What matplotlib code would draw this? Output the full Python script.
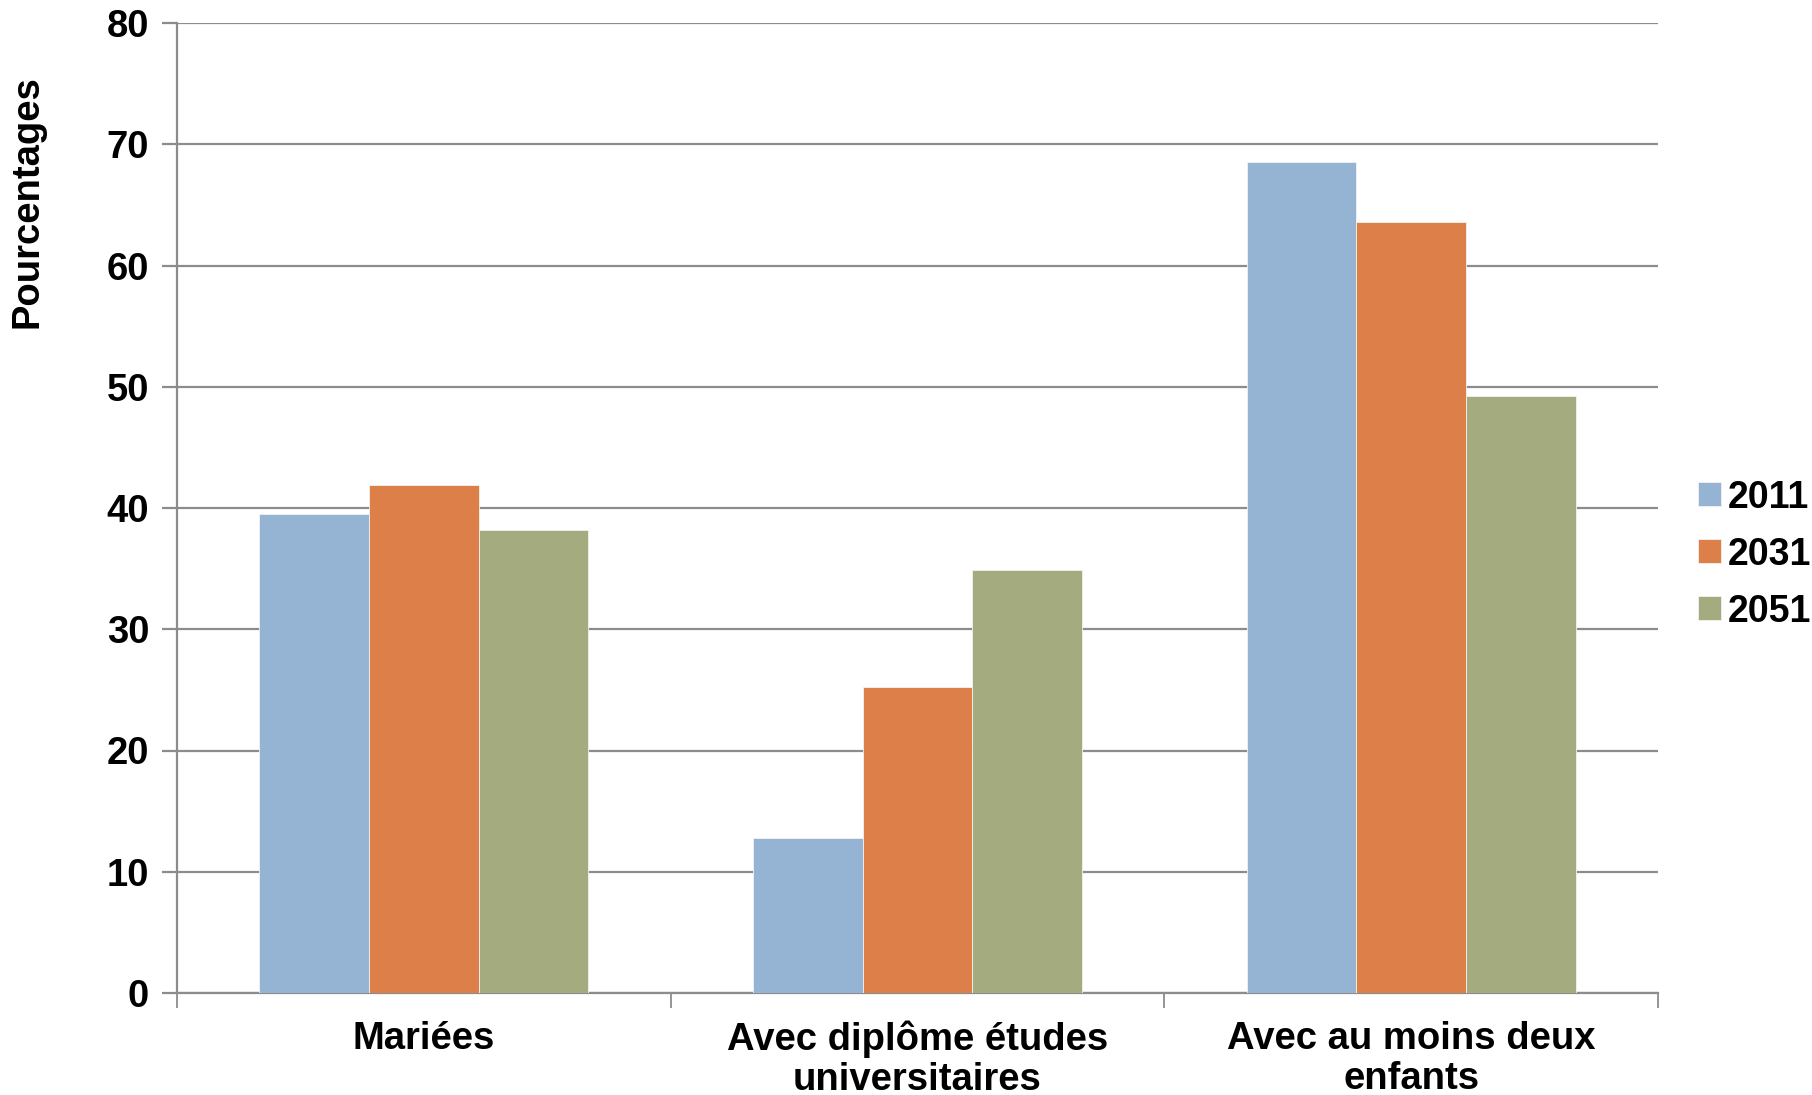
import matplotlib.pyplot as plt
import numpy as np

categories = ["Mariées", "Avec diplôme études\nuniversitaires", "Avec au moins deux\nenfants"]
years = ["2011", "2031", "2051"]
values_2011 = [39.5, 12.8, 68.5]
values_2031 = [41.9, 25.2, 63.6]
values_2051 = [38.2, 34.9, 49.2]
colors = ["#95B4D3", "#DD7F48", "#A4AB7F"]

plt.rcParams['font.family'] = ['Liberation Sans', 'DejaVu Sans']
plt.rcParams['font.weight'] = 'bold'

fig = plt.figure(figsize=(18.12, 10.95), dpi=100)
ax = fig.add_axes([177/1812, 1 - 993/1095, (1658-177)/1812, (993-23)/1095])

x = np.arange(len(categories))
width = 0.222
series = [values_2011, values_2031, values_2051]
for i, (vals, year) in enumerate(zip(series, years)):
    ax.bar(x + (i - 1) * width, vals, width, color=colors[i], label=year,
           edgecolor='#f2f2f2', linewidth=0.6, zorder=3)

ax.set_xlim(-0.5, 2.5)
ax.set_ylim(0, 80)
ax.set_yticks(range(0, 81, 10))
ax.yaxis.grid(True, color='#8c8c8c', linewidth=1.6, zorder=0)
ax.tick_params(axis='y', length=11, width=1.6, color='#8c8c8c', labelsize=27.5, pad=9)

# category boundaries as ticks, labels at centres
ax.set_xticks([-0.5, 0.5, 1.5, 2.5])
ax.set_xticklabels([])
ax.set_xticks(x, minor=True)
ax.set_xticklabels(categories, minor=True, fontsize=27.5, fontweight='bold', linespacing=1.15)
ax.tick_params(axis='x', which='major', length=11, width=1.3, color='#8c8c8c')
ax.tick_params(axis='x', which='minor', length=0, pad=20)

for side in ['top', 'right']:
    ax.spines[side].set_visible(False)
for side in ['left', 'bottom']:
    ax.spines[side].set_color('#8c8c8c')
    ax.spines[side].set_linewidth(1.6)

fig.text(28/1812, 1 - 202/1095, "Pourcentages", rotation=90, fontsize=27.5,
         fontweight='bold', ha='center', va='center')

ax.legend(loc='center left', bbox_to_anchor=(1.017, 0.452), frameon=False,
          fontsize=27, handlelength=0.6, handleheight=0.6, handletextpad=0.2,
          labelspacing=0.56, borderaxespad=0)

fig.savefig("out.png", dpi=100)
